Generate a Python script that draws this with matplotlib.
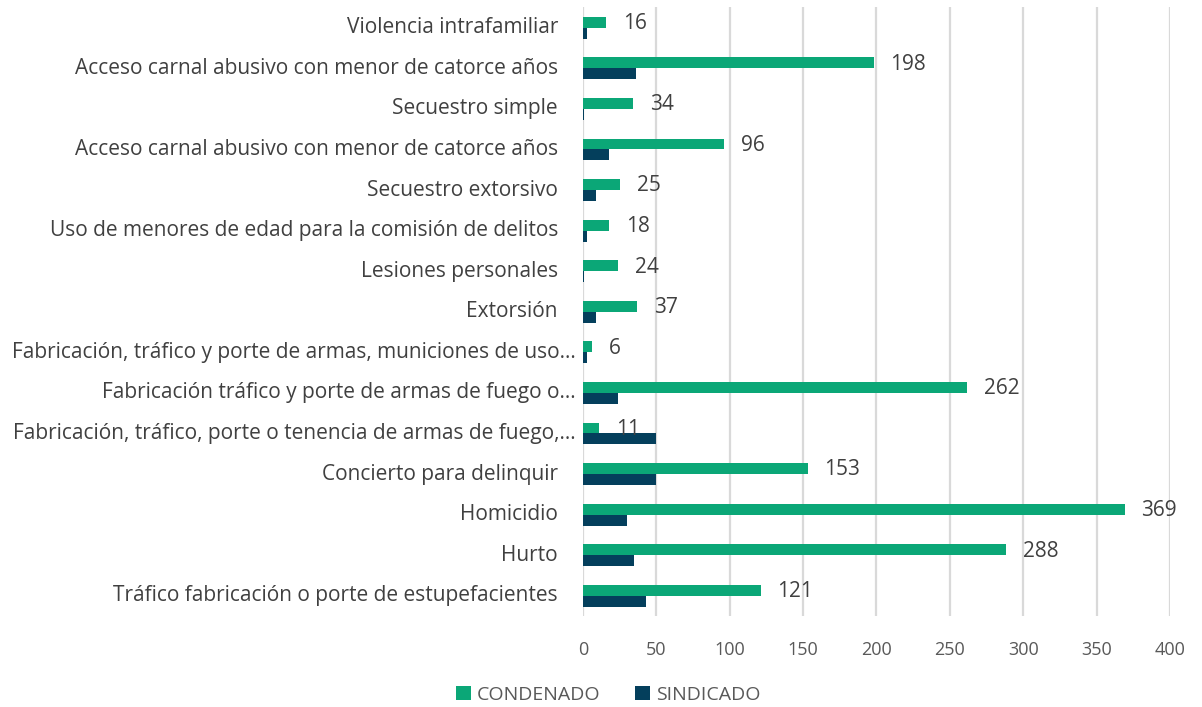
import numpy as np
import matplotlib.pyplot as plt
import matplotlib.transforms as mtransforms

plt.rcParams['font.family'] = ['Open Sans', 'DejaVu Sans']

# categories from top to bottom as in the chart
delitos = [
    "Violencia intrafamiliar",
    "Acceso carnal abusivo con menor de catorce años",
    "Secuestro simple",
    "Acceso carnal abusivo con menor de catorce años",
    "Secuestro extorsivo",
    "Uso de menores de edad para la comisión de delitos",
    "Lesiones personales",
    "Extorsión",
    "Fabricación, tráfico y porte de armas, municiones de uso…",
    "Fabricación tráfico y porte de armas de fuego o…",
    "Fabricación, tráfico, porte o tenencia de armas de fuego,…",
    "Concierto para delinquir",
    "Homicidio",
    "Hurto",
    "Tráfico fabricación o porte de estupefacientes",
]
condenado = [16, 198, 34, 96, 25, 18, 24, 37, 6, 262, 11, 153, 369, 288, 121]
sindicado = [3, 36, 1, 18, 9, 3, 1, 9, 3, 24, 50, 50, 30, 35, 43]
xticks = [0, 50, 100, 150, 200, 250, 300, 350, 400]

verde = '#0ba777'
azul = '#043f5c'

fig = plt.figure(figsize=(12.02, 7.07), dpi=100)
ax = fig.add_axes([0.485, 0.1287, 0.4884, 0.8607])

n = len(delitos)
y = np.arange(n)[::-1]
h = 0.27
ax.barh(y + h / 2, condenado, height=h, color=verde, label='CONDENADO', zorder=3)
ax.barh(y - h / 2, sindicado, height=h, color=azul, label='SINDICADO', zorder=3)

for yi, v in zip(y, condenado):
    ax.text(v + 11.5, yi + 0.1, str(v), va='center', ha='left',
            fontsize=15, color='#404040', zorder=4)

# category labels (truncated ones sit closer to the axis, like excel)
trans = mtransforms.blended_transform_factory(ax.transAxes, ax.transData)
for yi, lab in zip(y, delitos):
    dx = -7 if lab.endswith('…') else -25
    t = mtransforms.offset_copy(trans, fig=fig, x=dx, y=0, units='dots')
    ax.text(0, yi, lab, transform=t, ha='right', va='center',
            fontsize=15, color='#404040')

ax.set_ylim(-0.5, n - 0.5)
ax.set_xlim(0, 400)
ax.set_xticks(xticks)
ax.set_yticks([])
ax.tick_params(axis='x', labelsize=13, colors='#595959', length=0, pad=18)
ax.grid(axis='x', color='#d9d9d9', linewidth=1.6, zorder=0)
for s in ax.spines.values():
    s.set_visible(False)

fig.legend(loc='center', bbox_to_anchor=(0.506, 0.017), ncol=2, frameon=False,
           fontsize=14, handlelength=0.75, handleheight=0.75, columnspacing=1.8,
           handletextpad=0.3, labelcolor='#595959', borderpad=0)

plt.savefig('out.png', dpi=100)
